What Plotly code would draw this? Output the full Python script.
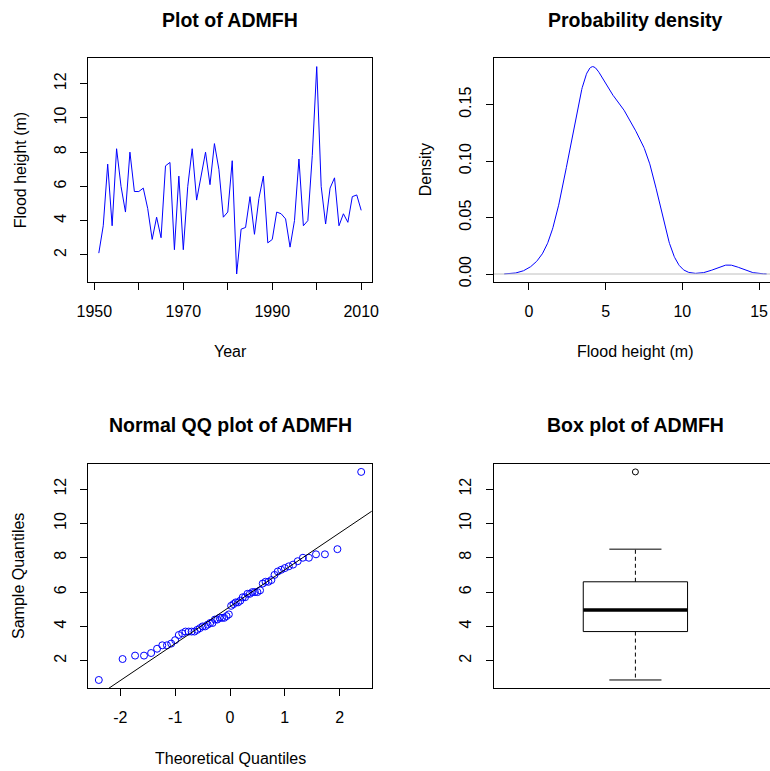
import numpy as np
import plotly.graph_objects as go
from statistics import NormalDist

# ---------------- data ----------------
years = list(range(1951, 2011))
flood_height = [
    2.1, 3.7, 7.3, 3.7, 8.2, 6.0, 4.5, 8.0, 5.7, 5.7,      # 1951-1960
    5.9, 4.7, 2.9, 4.2, 3.0, 7.2, 7.4, 2.3, 6.6, 2.3,      # 1961-1970
    6.0, 8.2, 5.2, 6.7, 8.0, 6.1, 8.5, 7.0, 4.2, 4.5,      # 1971-1980
    7.5, 0.88, 3.5, 3.6, 5.4, 3.2, 5.3, 6.6, 2.7, 2.9,     # 1981-1990
    4.5, 4.4, 4.1, 2.45, 4.0, 7.6, 3.7, 4.0, 7.8, 13.0,    # 1991-2000
    6.0, 3.8, 5.9, 6.5, 3.7, 4.4, 3.9, 5.4, 5.5, 4.6,      # 2001-2010
]
x_ticks_year = [1950, 1960, 1970, 1980, 1990, 2000, 2010]
x_ticktext_year = ["1950", "", "1970", "", "1990", "", "2010"]
y_ticks_height = [2, 4, 6, 8, 10, 12]
density_xticks = [0, 5, 10, 15]
density_yticks = [0.0, 0.05, 0.10, 0.15]
density_yticktext = ["0.00", "0.05", "0.10", "0.15"]
qq_xticks = [-2, -1, 0, 1, 2]
qq_xticktext = ["-2", "-1", "0", "1", "2"]

W, H = 770, 771
FONT = "Liberation Sans, Arial, sans-serif"
BLUE = "#0000FF"

y = np.array(flood_height, dtype=float)
n = len(y)


def rrange(a, b):
    pad = 0.04 * (b - a)
    return [a - pad, b + pad]


# ---------------- density (R: gaussian, bw.nrd0) ----------------
sd = y.std(ddof=1)
iqr = np.quantile(y, 0.75) - np.quantile(y, 0.25)
bw = 0.9 * min(sd, iqr / 1.34) * n ** (-0.2)
grid = np.linspace(y.min() - 3 * bw, y.max() + 3 * bw, 512)
dens = np.exp(-0.5 * ((grid[:, None] - y[None, :]) / bw) ** 2).sum(axis=1) / (n * bw * np.sqrt(2 * np.pi))

# ---------------- QQ ----------------
nd = NormalDist()
order = np.argsort(y, kind="stable")
pp = (np.arange(1, n + 1) - 0.5) / n
theo = np.array([nd.inv_cdf(p) for p in pp])
sample_sorted = y[order]
q1y, q3y = np.quantile(y, [0.25, 0.75])
q1x, q3x = nd.inv_cdf(0.25), nd.inv_cdf(0.75)
slope = (q3y - q1y) / (q3x - q1x)
intercept = q1y - slope * q1x

# ---------------- box stats (R fivenum / boxplot.stats) ----------------
def fivenum(v):
    v = np.sort(v)
    m = len(v)
    n4 = np.floor((m + 3) / 2) / 2
    d = np.array([1, n4, (m + 1) / 2, m + 1 - n4, m]) - 1
    return 0.5 * (v[np.floor(d).astype(int)] + v[np.ceil(d).astype(int)])

fn = fivenum(y)
hinge_lo, med, hinge_hi = fn[1], fn[2], fn[3]
coef = 1.5 * (hinge_hi - hinge_lo)
inside = y[(y >= hinge_lo - coef) & (y <= hinge_hi + coef)]
wlo, whi = inside.min(), inside.max()
outliers = y[(y < hinge_lo - coef) | (y > hinge_hi + coef)]

fig = go.Figure()

# Panel 1: time series
fig.add_trace(go.Scatter(x=years, y=flood_height, mode="lines",
                         line=dict(color=BLUE, width=1), xaxis="x", yaxis="y"))
# Panel 2: density
fig.add_trace(go.Scatter(x=grid, y=dens, mode="lines",
                         line=dict(color=BLUE, width=1), xaxis="x2", yaxis="y2"))
fig.add_trace(go.Scatter(x=[-100, 100], y=[0, 0], mode="lines",
                         line=dict(color="#BEBEBE", width=1), xaxis="x2", yaxis="y2"))
# Panel 3: QQ
fig.add_trace(go.Scatter(x=theo, y=sample_sorted, mode="markers",
                         marker=dict(symbol="circle-open", color=BLUE, size=7, line=dict(width=1)),
                         xaxis="x3", yaxis="y3"))
lx = np.array([-4.0, 4.0])
fig.add_trace(go.Scatter(x=lx, y=intercept + slope * lx, mode="lines",
                         line=dict(color="black", width=1), xaxis="x3", yaxis="y3"))
# Panel 4: box plot
hw = 0.184
fig.add_trace(go.Scatter(x=[1 - hw, 1 + hw, 1 + hw, 1 - hw, 1 - hw],
                         y=[hinge_lo, hinge_lo, hinge_hi, hinge_hi, hinge_lo], mode="lines",
                         line=dict(color="black", width=1), xaxis="x4", yaxis="y4"))
fig.add_trace(go.Scatter(x=[1 - hw, 1 + hw], y=[med, med], mode="lines",
                         line=dict(color="black", width=3.5), xaxis="x4", yaxis="y4"))
for a, b in [(hinge_hi, whi), (hinge_lo, wlo)]:
    fig.add_trace(go.Scatter(x=[1, 1], y=[a, b], mode="lines",
                             line=dict(color="black", width=1, dash="4px,3px"), xaxis="x4", yaxis="y4"))
for v in [whi, wlo]:
    fig.add_trace(go.Scatter(x=[1 - hw / 2, 1 + hw / 2], y=[v, v], mode="lines",
                             line=dict(color="black", width=1), xaxis="x4", yaxis="y4"))
fig.add_trace(go.Scatter(x=[1] * len(outliers), y=outliers, mode="markers",
                         marker=dict(symbol="circle-open", color="black", size=6, line=dict(width=1)),
                         xaxis="x4", yaxis="y4"))

# ---------------- layout ----------------
def px(xp):
    return xp / W

def py(yp):
    return 1 - yp / H

L1, R1 = 88.3, 371.7
L2, R2 = 493.7, 777.1
T1, B1 = 58.3, 282.3
T2, B2 = 463.6, 688.3

common = dict(showline=True, linecolor="black", linewidth=1, ticks="outside", ticklen=7,
              tickcolor="black", tickwidth=1, showgrid=False, zeroline=False, automargin=False,
              tickfont=dict(family=FONT, size=16, color="black"))
xcommon = dict(common, ticklabelstandoff=7)
ycommon = dict(common, tickangle=-90, ticklabelstandoff=8)

yr = rrange(min(years), max(years))
hr = rrange(y.min(), y.max())
dr = rrange(0, dens.max())
dxr = rrange(grid.min(), grid.max())
# visible part of panel 2/4 (their right edge falls outside the picture)
frac = (W - L2) / (R2 - L2)
dxr_vis = [dxr[0], dxr[0] + (dxr[1] - dxr[0]) * frac]
bxr_vis = [0.5, 0.5 + 1.0 * frac]
qr = rrange(theo.min(), theo.max())

fig.update_layout(
    width=W, height=H, margin=dict(l=0, r=0, t=0, b=0, autoexpand=False),
    paper_bgcolor="white", plot_bgcolor="white", showlegend=False,
    xaxis=dict(xcommon, domain=[px(L1), px(R1)], anchor="y", range=yr, mirror=True,
               tickvals=x_ticks_year, ticktext=x_ticktext_year),
    yaxis=dict(ycommon, domain=[py(B1), py(T1)], anchor="x", range=hr, mirror=True,
               tickvals=y_ticks_height),
    xaxis2=dict(xcommon, domain=[px(L2), 1.0], anchor="y2", range=dxr_vis, mirror=True,
                tickvals=density_xticks),
    yaxis2=dict(ycommon, domain=[py(B1), py(T1)], anchor="x2", range=dr,
                tickvals=density_yticks, ticktext=density_yticktext),
    xaxis3=dict(xcommon, domain=[px(L1), px(R1)], anchor="y3", range=qr, mirror=True,
                tickvals=qq_xticks, ticktext=qq_xticktext),
    yaxis3=dict(ycommon, domain=[py(B2), py(T2)], anchor="x3", range=hr, mirror=True,
                tickvals=y_ticks_height),
    xaxis4=dict(domain=[px(L2), 1.0], anchor="y4", range=bxr_vis, showline=True, mirror=True,
                linecolor="black", linewidth=1, showgrid=False, zeroline=False, automargin=False,
                showticklabels=False, ticks=""),
    yaxis4=dict(ycommon, domain=[py(B2), py(T2)], anchor="x4", range=hr,
                tickvals=y_ticks_height),
)

ann = []
def text(x, y, s, size=16, bold=False, angle=0):
    ann.append(dict(x=px(x), y=py(y), xref="paper", yref="paper", text=f"<b>{s}</b>" if bold else s,
                    showarrow=False, xanchor="center", yanchor="middle", textangle=angle,
                    font=dict(family=FONT, size=size, color="black")))

c1 = (L1 + R1) / 2
c2 = (L2 + R2) / 2
text(c1, 20, "Plot of ADMFH", 19.5, True)
text(c2, 20, "Probability density", 19.5, True)
text(c1, 425, "Normal QQ plot of ADMFH", 19.5, True)
text(c2, 425, "Box plot of ADMFH", 19.5, True)
text(c1, 352, "Year")
text(c2, 352, "Flood height (m)")
text(c1, 758, "Theoretical Quantiles")
text(20, (T1 + B1) / 2, "Flood height (m)", angle=-90)
text(425, (T1 + B1) / 2, "Density", angle=-90)
text(19, (T2 + B2) / 2, "Sample Quantiles", angle=-90)
fig.update_layout(annotations=ann)

fig.write_html("out.html", config={"displayModeBar": False},
               post_script="document.body.style.margin='0';document.body.style.overflow='hidden';")
